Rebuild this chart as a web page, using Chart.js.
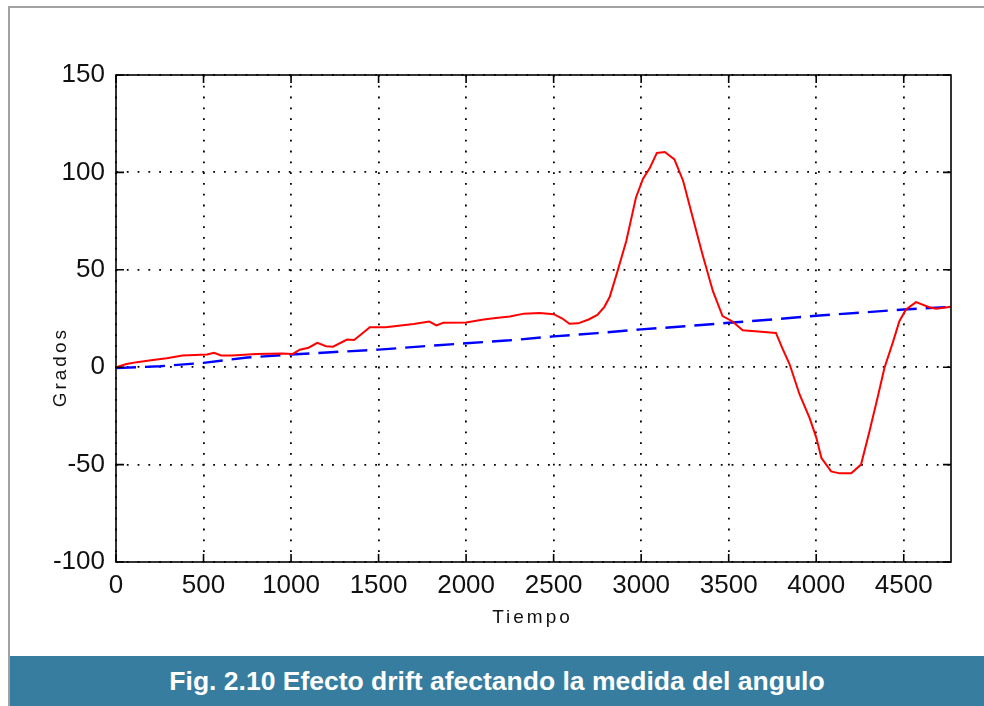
<!DOCTYPE html>
<html>
<head>
<meta charset="utf-8">
<script src="https://cdn.jsdelivr.net/npm/chart.js@4"></script>
<style>
  body { margin: 0; background: #fff; width: 984px; height: 706px; overflow: hidden; position: relative; font-family: "Liberation Sans", Arial, sans-serif; }
  #frameTop { position: absolute; left: 8px; top: 6px; width: 976px; height: 2px; background: #a2a2a2; }
  #frameLeft { position: absolute; left: 8px; top: 6px; width: 2px; height: 700px; background: #a2a2a2; }
  #wrap { position: absolute; left: 0; top: 0; width: 984px; height: 650px; }
  #caption { position: absolute; left: 10px; top: 656px; width: 974px; height: 50px; background: #367d9f; color: #fff;
    font-weight: bold; font-size: 26.5px; line-height: 50px; text-align: center; }
</style>
</head>
<body>
<div id="frameTop"></div>
<div id="frameLeft"></div>
<div id="wrap"><canvas id="driftChart"></canvas></div>
<div id="caption">Fig. 2.10 Efecto drift afectando la medida del angulo</div>
<script>
// medida del angulo (rojo)
const redTime = [0, 60, 120, 200, 290, 380, 520, 560, 600, 660, 710, 800, 950, 1010, 1050, 1100, 1150, 1200, 1240, 1320,
  1360, 1410, 1450, 1540, 1590, 1700, 1790, 1830, 1870, 2000, 2100, 2170, 2250, 2330, 2420, 2500, 2550, 2590, 2640, 2700,
  2750, 2790, 2820, 2860, 2915, 2970, 3010, 3050, 3090, 3135, 3190, 3240, 3295, 3350, 3410, 3465, 3520, 3580, 3650, 3770,
  3805, 3848, 3905, 3962, 4000, 4030, 4085, 4133, 4200, 4256, 4304, 4350, 4390, 4437, 4475, 4513, 4570, 4646, 4685, 4770];
const redAngle = [0, 1.6, 2.6, 3.6, 4.6, 6, 6.5, 7.4, 6, 6, 6.3, 6.8, 7, 6.8, 9, 10, 12.5, 10.8, 10.5, 14.2,
  14, 17.6, 20.5, 20.5, 21, 22.2, 23.4, 21.5, 22.8, 23, 24.5, 25.3, 26, 27.5, 27.8, 27.2, 25, 22.3, 22.5, 24.5,
  26.8, 31, 36, 47.8, 64.8, 87, 96.6, 102.4, 110, 110.5, 106.7, 95.6, 76.7, 58, 39, 26.2, 23.6, 19, 18.5, 17.6,
  10, 1.5, -14, -26, -36, -46.6, -53.5, -54.5, -54.5, -50, -33, -15.8, -0.3, 12.5, 23.6, 29.6, 33.4, 30.8, 30, 31];

// drift (azul, discontinua)
const blueTime = [0, 250, 500, 750, 1000, 1250, 1500, 1750, 2000, 2250, 2500, 2750, 3000, 3250, 3500, 3750, 4000, 4250, 4500, 4770];
const blueAngle = [-0.5, 0.5, 2.2, 5, 6.5, 7.8, 9, 10.7, 12.3, 13.8, 15.8, 17.5, 19.4, 21, 22.8, 24.5, 26.4, 28, 29.6, 31];

const xTicks = [0, 500, 1000, 1500, 2000, 2500, 3000, 3500, 4000, 4500];
const yTicks = [-100, -50, 0, 50, 100, 150];
const xLabel = "Tiempo";
const yLabel = "Grados";

function toPoints(xs, ys) {
    return xs.map((x, i) => ({ x: x, y: ys[i] }));
}

// marco, marcas hacia dentro y titulos de ejes (estilo MATLAB)
const matlabFrame = {
    id: "matlabFrame",
    afterDraw(chart) {
        const ctx = chart.ctx;
        const a = chart.chartArea;
        const xs = chart.scales.x, ys = chart.scales.y;
        const tl = 8;
        ctx.save();
        ctx.strokeStyle = "#000";
        ctx.lineWidth = 1.6;
        ctx.beginPath();
        xTicks.forEach(v => {
            const px = xs.getPixelForValue(v);
            ctx.moveTo(px, a.bottom); ctx.lineTo(px, a.bottom - tl);
            ctx.moveTo(px, a.top); ctx.lineTo(px, a.top + tl);
        });
        yTicks.forEach(v => {
            const py = ys.getPixelForValue(v);
            ctx.moveTo(a.left, py); ctx.lineTo(a.left + tl, py);
            ctx.moveTo(a.right, py); ctx.lineTo(a.right - tl, py);
        });
        ctx.stroke();
        ctx.strokeRect(a.left, a.top, a.right - a.left, a.bottom - a.top);

        ctx.fillStyle = "#111";
        ctx.font = "19px 'Liberation Sans', Arial, sans-serif";
        ctx.textAlign = "center";
        ctx.textBaseline = "middle";
        ctx.letterSpacing = "3px";
        ctx.fillText(xLabel, (a.left + a.right) / 2 - 1, 618);
        ctx.translate(61, ys.getPixelForValue(0));
        ctx.rotate(-Math.PI / 2);
        ctx.fillText(yLabel, 0, 0);
        ctx.restore();
    }
};

const gridStyle = {
    color: "#000",
    lineWidth: 1.8,
    drawTicks: false
};
const borderStyle = { display: false, dash: [1.8, 9] };
const tickFont = { family: "'Liberation Sans', Arial, sans-serif", size: 26 };

new Chart(document.getElementById("driftChart").getContext("2d"), {
    type: "scatter",
    data: {
        datasets: [
            {
                label: "Angulo",
                data: toPoints(redTime, redAngle),
                showLine: true,
                borderColor: "#ff0000",
                borderWidth: 2,
                pointRadius: 0,
                tension: 0
            },
            {
                label: "Drift",
                data: toPoints(blueTime, blueAngle),
                showLine: true,
                borderColor: "#0000ff",
                borderWidth: 2.4,
                borderDash: [20, 9],
                pointRadius: 0,
                tension: 0
            }
        ]
    },
    options: {
        responsive: true,
        maintainAspectRatio: false,
        animation: false,
        layout: { padding: { top: 75, right: 33, left: 0, bottom: 0 } },
        plugins: {
            legend: { display: false },
            tooltip: { enabled: false }
        },
        scales: {
            x: {
                type: "linear",
                min: 0,
                max: 4770,
                border: borderStyle,
                grid: gridStyle,
                ticks: { stepSize: 500, padding: 8, color: "#111", font: tickFont, maxRotation: 0, callback: v => String(v) },
                afterBuildTicks: scale => { scale.ticks = xTicks.map(v => ({ value: v })); },
                afterFit: scale => { scale.height = 88; }
            },
            y: {
                min: -100,
                max: 150,
                border: borderStyle,
                grid: gridStyle,
                ticks: { stepSize: 50, padding: 11, color: "#111", font: tickFont, callback: v => String(v) },
                afterBuildTicks: scale => { scale.ticks = yTicks.map(v => ({ value: v })); },
                afterFit: scale => { scale.width = 116; }
            }
        }
    },
    plugins: [matlabFrame]
});
</script>
</body>
</html>
